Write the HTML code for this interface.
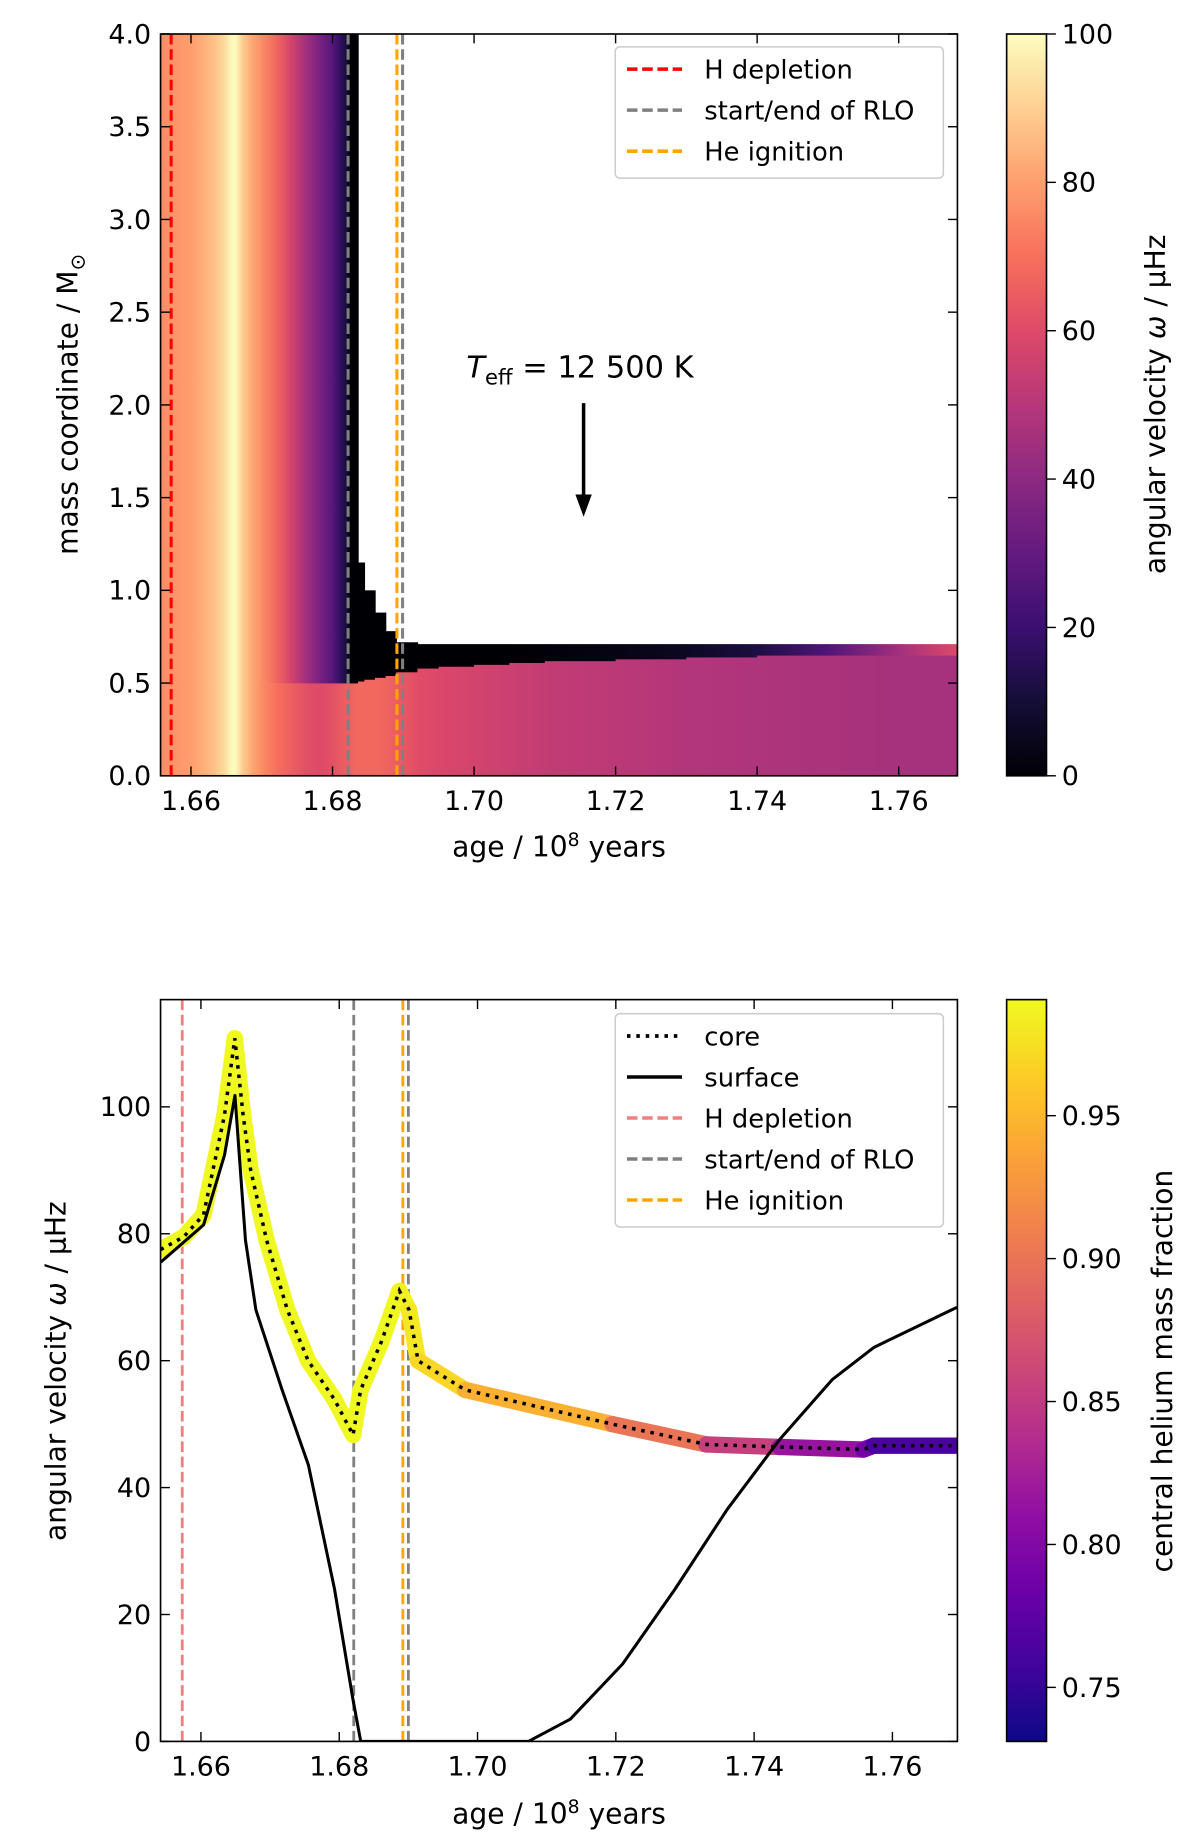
<!DOCTYPE html>
<html><head><meta charset="utf-8"><style>
html,body{margin:0;padding:0;background:#fff}
svg{display:block;font-family:"DejaVu Sans","Liberation Sans",sans-serif}
</style></head><body>
<svg id="fig" width="1200" height="1834" viewBox="0 0 1024 1565" xmlns="http://www.w3.org/2000/svg">
<defs id="defs"></defs>
<g id="top"></g>
<g id="bot"></g>
</svg>
<script>
// ---------- top panel data ----------
const heatAges  = [1.6557,1.658,1.660,1.662,1.6635,1.6648,1.6655,1.6662,1.6672,1.6685,1.670,1.672,1.674,1.676,1.678,1.680,1.681,1.682,1.6825,1.6832,1.6836,1.6845,1.686,1.6875,1.689,1.692,1.695,1.700,1.705,1.710,1.720,1.730,1.740,1.750,1.760,1.7683];
const heatOmegaLow = [76,78,80,84,88,93,98,100,90,82,76,70,66,62,60,62,64,66,66,68,68,68,68,67,65,61,59,57,55,53,51,49,48,47,46,46];
const heatOmegaEnv = [76,78,80,84,88,93,98,100,90,82,76,68,58,46,36,26,18,10,0,0,0,0,0,0,0,0,0,0,0,1,3,6,12,25,45,60];
const heatCoreTop = [0.5,0.5,0.5,0.5,0.5,0.5,0.5,0.5,0.5,0.5,0.5,0.5,0.5,0.5,0.5,0.5,0.5,0.5,0.5,0.5,0.51,0.52,0.53,0.54,0.56,0.58,0.59,0.6,0.61,0.62,0.63,0.64,0.65,0.65,0.65,0.65];
const heatEnvTop  = [4,4,4,4,4,4,4,4,4,4,4,4,4,4,4,4,4,4,4,4,1.15,1.0,0.88,0.78,0.72,0.71,0.71,0.71,0.71,0.71,0.71,0.71,0.71,0.71,0.71,0.71];
const topXTicks = [1.66,1.68,1.70,1.72,1.74,1.76];
const topYTicks = [0,0.5,1,1.5,2,2.5,3,3.5,4];
const cbTopTicks = [0,20,40,60,80,100];
const refLinesTop = [[1.6572,'#ff0000'],[1.6822,'#808080'],[1.6891,'#ffa500'],[1.6899,'#808080']];
// ---------- bottom panel data ----------
const coreAges = [1.65416,1.6575,1.66038,1.66341,1.6649,1.6661,1.6672,1.6695,1.6725,1.6755,1.6793,1.6820,1.6831,1.6861,1.6887,1.6901,1.6914,1.6982,1.7195,1.7331,1.7437,1.7558,1.7573,1.7693];
const coreOmega = [77.5,79.5,83,98.7,110.8,98.7,90,79,68,60,53.9,48.3,55.4,63,71,68,60,55.4,50,46.8,46.4,46,46.6,46.6];
const coreHe = [0.99,0.99,0.99,0.99,0.99,0.99,0.99,0.99,0.99,0.99,0.99,0.99,0.99,0.99,0.99,0.985,0.975,0.965,0.925,0.875,0.835,0.795,0.785,0.74];
const surfAges = [1.65416,1.66038,1.66341,1.66492,1.66644,1.66795,1.67174,1.67553,1.67932,1.68197,1.68311,1.70735,1.71341,1.72098,1.72856,1.73613,1.74371,1.75128,1.75734,1.76264,1.76931];
const surfOmega = [75.5,81.4,92.4,101.8,79,68,55.4,43.6,24,6.7,0,0,3.5,12.2,24,36.6,47.6,57,62.1,64.9,68.4];
const botXTicks = [1.66,1.68,1.70,1.72,1.74,1.76];
const botYTicks = [0,20,40,60,80,100];
const cbBotTicks = [0.75,0.80,0.85,0.90,0.95];
const refLinesBot = [[1.6573,'#f08080'],[1.6821,'#808080'],[1.6892,'#ffa500'],[1.6900,'#808080']];

const NS='http://www.w3.org/2000/svg';
const DEFS=document.getElementById('defs');
function mk(parent,tag,attrs){const e=document.createElementNS(NS,tag);for(const k in attrs)e.setAttribute(k,attrs[k]);parent.appendChild(e);return e;}
function lerpCmap(stops,t){t=Math.max(0,Math.min(1,t));const n=stops.length-1;const i=Math.min(n-1,Math.floor(t*n));const f=t*n-i;
 const a=stops[i],b=stops[i+1];const h=s=>[parseInt(s.substr(1,2),16),parseInt(s.substr(3,2),16),parseInt(s.substr(5,2),16)];
 const A=h(a),B=h(b);return 'rgb('+A.map((v,k)=>Math.round(v+(B[k]-v)*f)).join(',')+')';}
const magma=['#000004','#140e36','#3b0f70','#641a80','#8c2981','#b73779','#de4968','#f7705c','#fe9f6d','#fecf92','#fcfdbf'];
const plasma=['#0d0887','#41049d','#6a00a8','#8f0da4','#b12a90','#cc4778','#e16462','#f2844b','#fca636','#fcce25','#f0f921'];
let gid=0;
function hgrad(c1,c2){const id='hg'+(gid++);const g=mk(DEFS,'linearGradient',{id:id,x1:0,y1:0,x2:1,y2:0});
  mk(g,'stop',{offset:0,'stop-color':c1});mk(g,'stop',{offset:1,'stop-color':c2});return 'url(#'+id+')';}

// ===== TOP =====
const T=document.getElementById('top');
const tL=137,tR=817,tT=29,tB=662, tx0=1.6557,tx1=1.7683;
const txs=v=>tL+(v-tx0)/(tx1-tx0)*(tR-tL);
const tys=v=>tB-v/4*(tB-tT);
const heat=mk(T,'g',{});


for(let i=0;i<heatAges.length-1;i++){
  const x=txs(heatAges[i]), w=txs(heatAges[i+1])-x+0.6;
  const r1=mk(heat,'rect',{x:x,y:tys(heatCoreTop[i]),width:w,height:tB-tys(heatCoreTop[i]),fill:hgrad(lerpCmap(magma,heatOmegaLow[i]/100),lerpCmap(magma,heatOmegaLow[i+1]/100))});
  
  
  const r2=mk(heat,'rect',{x:x,y:tys(heatEnvTop[i]),width:w,height:tys(heatCoreTop[i])-tys(heatEnvTop[i])+0.3,fill:hgrad(lerpCmap(magma,heatOmegaEnv[i]/100),lerpCmap(magma,heatOmegaEnv[i+1]/100))});
  
  
}
refLinesTop.forEach(r=>{const l=mk(T,'line',{x1:txs(r[0]),x2:txs(r[0]),y1:tT,y2:tB,stroke:r[1],'stroke-width':2.6,'stroke-dasharray':'9,4'});
  
  });
function axes(G,L,R,Tp,B,xt,xs,yt,ys,yfmt){
  const f=mk(G,'rect',{x:L,y:Tp,width:R-L,height:B-Tp,fill:'none',stroke:'#000','stroke-width':1.4});
  
  
  xt.forEach(v=>{const x=xs(v);mk(G,'line',{x1:x,x2:x,y1:B,y2:B-8,stroke:'#000','stroke-width':1.2});mk(G,'line',{x1:x,x2:x,y1:Tp,y2:Tp+8,stroke:'#000','stroke-width':1.2});
    const t=mk(G,'text',{x:x,y:B+29,'font-size':23,'text-anchor':'middle'});t.textContent=v.toFixed(2);
    
    });
  yt.forEach(v=>{const y=ys(v);mk(G,'line',{x1:L,x2:L+8,y1:y,y2:y,stroke:'#000','stroke-width':1.2});mk(G,'line',{x1:R,x2:R-8,y1:y,y2:y,stroke:'#000','stroke-width':1.2});
    const t=mk(G,'text',{x:L-8,y:y+8,'font-size':23,'text-anchor':'end'});t.textContent=yfmt(v);
    
    });
}
axes(T,tL,tR,tT,tB,topXTicks,txs,topYTicks,tys,v=>v.toFixed(1));
function txt(G,x,y,s,name,size,rot,anchor){const t=mk(G,'text',{x:x,y:y,'font-size':size,'text-anchor':anchor||'middle'});
  if(rot)t.setAttribute('transform','rotate(-90 '+x+' '+y+')');t.innerHTML=s;
  
  return t;}
txt(T,477,731,'age / 10<tspan dy="-9" font-size="16">8</tspan><tspan dy="9"> years</tspan>','x-axis-title',24);
txt(T,66,345,'mass coordinate / M<tspan dy="6" font-size="17">⊙</tspan>','y-axis-title',24,true);
txt(T,398,322,'<tspan font-style="italic">T</tspan><tspan dy="6" font-size="18">eff</tspan><tspan dy="-6"> = 12 500 K</tspan>','teff-annotation',26,false,'start');
const ar=mk(T,'g',{});


mk(ar,'line',{x1:498,x2:498,y1:344,y2:424,stroke:'#000','stroke-width':3});
mk(ar,'polygon',{points:'491,422 505,422 498,441',fill:'#000'});
function legend(G,x,y,w,entries){
  const lg=mk(G,'g',{});
  
  
  mk(lg,'rect',{x:x,y:y,width:w,height:entries.length*35+7,rx:4,fill:'#fff','fill-opacity':0.85,stroke:'#ccc','stroke-width':1.3});
  entries.forEach((e,i)=>{const cy=y+19+i*35;
    const g=mk(lg,'g',{});
    
    
    mk(g,'line',{x1:x+10,x2:x+57,y1:cy,y2:cy,stroke:e[1],'stroke-width':e[2]==='dot'?3.2:3,'stroke-dasharray':e[2]==='dot'?'3,5':(e[2]==='solid'?'none':'9,4')});
    const t=mk(g,'text',{x:x+76,y:cy+8,'font-size':22});t.textContent=e[0];});
}
legend(T,525,40,280,[['H depletion','#ff0000'],['start/end of RLO','#808080'],['He ignition','#ffa500']]);
const cb=mk(T,'g',{});


const gd=mk(DEFS,'linearGradient',{id:'gm',x1:0,y1:1,x2:0,y2:0});
magma.forEach((c,i)=>mk(gd,'stop',{offset:i/10,'stop-color':c}));
mk(cb,'rect',{x:859,y:tT,width:34,height:tB-tT,fill:'url(#gm)',stroke:'#000','stroke-width':1.4});
cbTopTicks.forEach(v=>{const y=tB-v/100*(tB-tT);mk(cb,'line',{x1:893,x2:901,y1:y,y2:y,stroke:'#000','stroke-width':1.2});
  const t=mk(cb,'text',{x:906,y:y+8,'font-size':23});t.textContent=v;
  
  });
txt(T,994,345,'angular velocity <tspan font-style="italic">ω</tspan> / μHz','colorbar-title',24,true);

// ===== BOTTOM =====
const B=document.getElementById('bot');
const bL=137,bR=817,bT=853,bB=1486,bx0=1.65416,bx1=1.7694,by1=116.9;
const bxs=v=>bL+(v-bx0)/(bx1-bx0)*(bR-bL);
const bys=v=>bB-v/by1*(bB-bT);
const cp0=mk(DEFS,'clipPath',{id:'cl'});
mk(cp0,'rect',{x:bL,y:bT,width:bR-bL,height:bB-bT});
const pl=mk(B,'g',{'clip-path':'url(#cl)'});
refLinesBot.forEach(r=>{const l=mk(pl,'line',{x1:bxs(r[0]),x2:bxs(r[0]),y1:bT,y2:bB,stroke:r[1],'stroke-width':2.4,'stroke-dasharray':'9,4'});
  
  });
const thick=mk(pl,'g',{});


for(let i=0;i<coreAges.length-1;i++){
  mk(thick,'line',{x1:bxs(coreAges[i]),y1:bys(coreOmega[i]),x2:bxs(coreAges[i+1]),y2:bys(coreOmega[i+1]),
    stroke:lerpCmap(plasma,((coreHe[i]+coreHe[i+1])/2-0.7311)/(0.9906-0.7311)),'stroke-width':14,'stroke-linecap':'round'});
}
const sp=mk(pl,'polyline',{points:surfAges.map((a,i)=>bxs(a)+','+bys(surfOmega[i])).join(' '),fill:'none',stroke:'#000','stroke-width':2.6,'stroke-linejoin':'round'});


const cp=mk(pl,'polyline',{points:coreAges.map((a,i)=>bxs(a)+','+bys(coreOmega[i])).join(' '),fill:'none',stroke:'#000','stroke-width':3,'stroke-dasharray':'3,5'});


axes(B,bL,bR,bT,bB,botXTicks,bxs,botYTicks,bys,v=>String(v));
txt(B,477,1556,'age / 10<tspan dy="-9" font-size="16">8</tspan><tspan dy="9"> years</tspan>','x-axis-title',24);
txt(B,56,1170,'angular velocity <tspan font-style="italic">ω</tspan> / μHz','y-axis-title',24,true);
legend(B,525,865,280,[['core','#000','dot'],['surface','#000','solid'],['H depletion','#f08080'],['start/end of RLO','#808080'],['He ignition','#ffa500']]);
const cb2=mk(B,'g',{});


const gd2=mk(DEFS,'linearGradient',{id:'gp',x1:0,y1:1,x2:0,y2:0});
plasma.forEach((c,i)=>mk(gd2,'stop',{offset:i/10,'stop-color':c}));
mk(cb2,'rect',{x:859,y:bT,width:34,height:bB-bT,fill:'url(#gp)',stroke:'#000','stroke-width':1.4});
cbBotTicks.forEach(v=>{const y=bB-(v-0.7311)/(0.9906-0.7311)*(bB-bT);mk(cb2,'line',{x1:893,x2:901,y1:y,y2:y,stroke:'#000','stroke-width':1.2});
  const t=mk(cb2,'text',{x:906,y:y+8,'font-size':23});t.textContent=v.toFixed(2);
  
  });
txt(B,1000,1170,'central helium mass fraction','colorbar-title',24,true);
</script>
</body></html>
